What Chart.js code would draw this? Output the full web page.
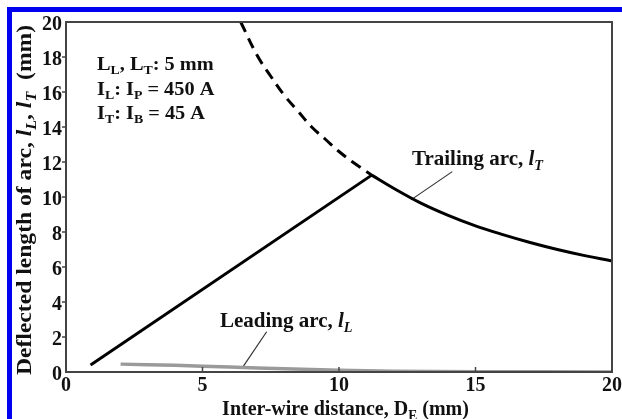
<!DOCTYPE html>
<html>
<head>
<meta charset="utf-8">
<script src="https://cdn.jsdelivr.net/npm/chart.js@4.4.1/dist/chart.umd.min.js"></script>
<style>
  html, body { margin: 0; padding: 0; background: #fff; }
  canvas { display: block; }
</style>
</head>
<body>
<canvas id="arcChart" width="622" height="419"></canvas>
<script>
// Longitud de arco deflectado vs distancia entre alambres
const xTicks = [0, 5, 10, 15, 20];
const yTicks = [0, 2, 4, 6, 8, 10, 12, 14, 16, 18, 20];

// Arco trasero: tramo recto ascendente
const trailRiseX = [0.9, 11.2];
const trailRiseY = [0.4, 11.25];

// Arco trasero: tramo discontinuo (extrapolado)
const trailDashX = [6.4, 7, 7.5, 8, 8.5, 9, 9.5, 10, 10.5, 11.2];
const trailDashY = [20.0, 18.1, 16.9, 15.8, 14.9, 14.0, 13.3, 12.6, 12.0, 11.25];

// Arco trasero: tramo continuo decreciente
const trailFallX = [11.2, 12, 13, 14, 15, 16, 17, 18, 19, 20];
const trailFallY = [11.25, 10.5, 9.65, 8.95, 8.35, 7.85, 7.4, 7.0, 6.65, 6.34];

// Arco delantero
const leadX = [2, 4, 6, 8, 10, 12, 15, 20];
const leadY = [0.45, 0.38, 0.28, 0.18, 0.1, 0.05, 0.02, 0.0];

// Líneas indicadoras de las etiquetas
const leadPointerX = [6.45, 7.35];
const leadPointerY = [0.22, 2.3];
const trailPointerX = [12.65, 14.15];
const trailPointerY = [9.85, 11.45];

const toPoints = (xs, ys) => xs.map((x, i) => ({ x: x, y: ys[i] }));

const SERIF = '"Liberation Serif", "Times New Roman", serif';

// Texto con subíndices y cursivas; sx estira a lo largo del texto
function setFont(ctx, p, size) {
  const s = p.sub ? size * 0.68 : size;
  ctx.font = (p.it ? 'italic ' : '') + 'bold ' + s + 'px ' + SERIF;
}

function richWidth(ctx, parts, size, sx) {
  let w = 0;
  parts.forEach(p => { setFont(ctx, p, size); w += ctx.measureText(p.t).width; });
  return w * (sx || 1);
}

function drawRich(ctx, parts, x, y, size, sx) {
  ctx.save();
  ctx.translate(x, y);
  ctx.scale(sx || 1, 1);
  let cx = 0;
  parts.forEach(p => {
    setFont(ctx, p, size);
    ctx.fillText(p.t, cx, p.sub ? size * 0.24 : 0);
    cx += ctx.measureText(p.t).width;
  });
  ctx.restore();
}

const yTitle = [
  { t: 'Deflected length of arc, ' }, { t: 'l', it: true }, { t: 'L', it: true, sub: true },
  { t: ', ' }, { t: 'l', it: true }, { t: 'T', it: true, sub: true }, { t: '  (mm)' }
];
const xTitle = [
  { t: 'Inter-wire distance, D' }, { t: 'E', sub: true }, { t: ' (mm)' }
];
const noteLines = [
  [{ t: 'L' }, { t: 'L', sub: true }, { t: ', L' }, { t: 'T', sub: true }, { t: ': 5 mm' }],
  [{ t: 'I' }, { t: 'L', sub: true }, { t: ': I' }, { t: 'P', sub: true }, { t: ' = 450 A' }],
  [{ t: 'I' }, { t: 'T', sub: true }, { t: ': I' }, { t: 'B', sub: true }, { t: ' = 45 A' }]
];
const leadLabel = [{ t: 'Leading arc, ' }, { t: 'l', it: true }, { t: 'L', it: true, sub: true }];
const trailLabel = [{ t: 'Trailing arc, ' }, { t: 'l', it: true }, { t: 'T', it: true, sub: true }];

const decorPlugin = {
  id: 'decor',
  beforeDraw(chart) {
    const ctx = chart.ctx;
    ctx.save();
    ctx.fillStyle = '#fff';
    ctx.fillRect(0, 0, chart.width, chart.height);
    // marco azul izquierdo y superior
    ctx.fillStyle = '#0000f0';
    ctx.fillRect(7, 7, 5, chart.height - 7);
    ctx.fillRect(7, 7, chart.width - 7, 5);
    ctx.restore();
  },
  afterDraw(chart) {
    const ctx = chart.ctx;
    const a = chart.chartArea;
    const xs = chart.scales.x;
    const ys = chart.scales.y;
    ctx.save();
    // caja del gráfico
    ctx.strokeStyle = '#444';
    ctx.lineWidth = 2;
    ctx.strokeRect(a.left, a.top, a.right - a.left, a.bottom - a.top);
    // marcas: eje x hacia adentro, eje y hacia afuera
    ctx.lineWidth = 1.5;
    [5, 10, 15].forEach(v => {
      const px = xs.getPixelForValue(v);
      ctx.beginPath();
      ctx.moveTo(px, a.bottom);
      ctx.lineTo(px, a.bottom - 5);
      ctx.stroke();
    });
    yTicks.slice(1, -1).forEach(v => {
      const py = ys.getPixelForValue(v);
      ctx.beginPath();
      ctx.moveTo(a.left, py);
      ctx.lineTo(a.left - 4, py);
      ctx.stroke();
    });

    // etiquetas de los ejes
    ctx.fillStyle = '#111';
    ctx.font = 'bold 20px ' + SERIF;
    ctx.textBaseline = 'alphabetic';
    ctx.textAlign = 'center';
    xTicks.forEach(v => ctx.fillText(String(v), xs.getPixelForValue(v), 391));
    ctx.textAlign = 'right';
    yTicks.forEach(v => {
      ctx.save();
      ctx.translate(62, ys.getPixelForValue(v) + 7.5);
      ctx.scale(1, 1.1);
      ctx.fillText(String(v), 0, 0);
      ctx.restore();
    });
    ctx.textAlign = 'left';

    // título eje x
    const xw = richWidth(ctx, xTitle, 20, 1);
    drawRich(ctx, xTitle, 345.5 - xw / 2, 415, 20, 1);
    // título eje y
    const yw = richWidth(ctx, yTitle, 20, 1.18);
    ctx.save();
    ctx.translate(31, 200);
    ctx.rotate(-Math.PI / 2);
    drawRich(ctx, yTitle, -yw / 2, 0, 20, 1.18);
    ctx.restore();
    // condiciones
    noteLines.forEach((line, i) => drawRich(ctx, line, 97, 70 + i * 24.5, 18, 1.13));
    // etiquetas de curvas
    drawRich(ctx, leadLabel, 220, 327, 21, 1);
    drawRich(ctx, trailLabel, 412, 165, 21, 1);
    ctx.restore();
  }
};

const lineBase = { showLine: true, pointRadius: 0, tension: 0, fill: false };

new Chart(document.getElementById('arcChart'), {
  type: 'scatter',
  data: {
    datasets: [
      Object.assign({ data: toPoints(leadX, leadY), borderColor: '#9a9a9a', borderWidth: 3.5 }, lineBase, { tension: 0.3 }),
      Object.assign({ data: toPoints(trailRiseX, trailRiseY), borderColor: '#000', borderWidth: 3 }, lineBase),
      Object.assign({ data: toPoints(trailDashX, trailDashY), borderColor: '#000', borderWidth: 3, borderDash: [11, 7] }, lineBase, { tension: 0.4 }),
      Object.assign({ data: toPoints(trailFallX, trailFallY), borderColor: '#000', borderWidth: 3 }, lineBase, { tension: 0.4 }),
      Object.assign({ data: toPoints(leadPointerX, leadPointerY), borderColor: '#333', borderWidth: 1.2 }, lineBase),
      Object.assign({ data: toPoints(trailPointerX, trailPointerY), borderColor: '#333', borderWidth: 1.2 }, lineBase)
    ]
  },
  options: {
    responsive: false,
    animation: false,
    devicePixelRatio: 1,
    layout: { padding: { top: 22, right: 10, left: 0, bottom: 0 } },
    plugins: { legend: { display: false }, tooltip: { enabled: false } },
    scales: {
      x: {
        type: 'linear',
        min: 0, max: 20,
        afterFit: s => { s.height = 47; },
        grid: { display: false },
        border: { display: false },
        ticks: { display: false }
      },
      y: {
        type: 'linear',
        min: 0, max: 20,
        afterFit: s => { s.width = 66; },
        grid: { display: false },
        border: { display: false },
        ticks: { display: false }
      }
    }
  },
  plugins: [decorPlugin]
});
</script>
</body>
</html>
